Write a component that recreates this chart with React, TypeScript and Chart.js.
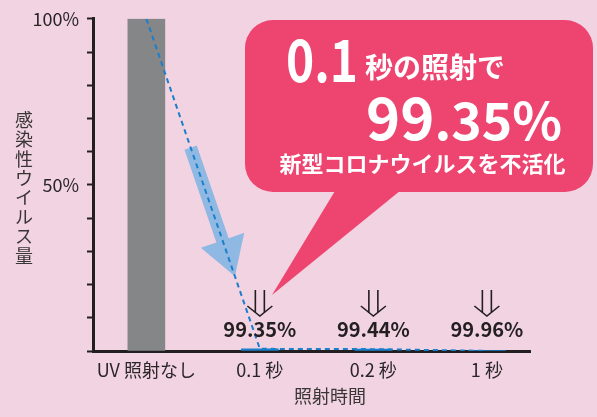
import { useEffect, useRef } from 'react';
import { Chart, registerables } from 'chart.js';

Chart.register(...registerables);

// ---- data ----
const categories = ['UV 照射なし', '0.1 秒', '0.2 秒', '1 秒'];
const infectivity = [100, 0.65, 0.56, 0.04];
const reductionLabels = ['', '99.35%', '99.44%', '99.96%'];
const yTickValues = [50, 100];
const yTickTexts = ['50%', '100%'];
const yTitle = '感染性ウイルス量';
const xTitle = '照射時間';
const calloutBig = '0.1';
const calloutSmall = '秒の照射で';
const calloutPctMain = '99';
const calloutPctRest = '.35%';
const calloutBottom = '新型コロナウイルスを不活化';

// ---- styles ----
const FONT = '"Noto Sans CJK JP", "Noto Sans", sans-serif';
const BG = '#f2d3e1';
const GREY = '#848688';
const BLUE = '#1b7fcc';
const LIGHT_BLUE = '#8fb9e3';
const PINK = '#ee4470';
const AXIS = '#231f20';
const TEXT = '#2a2627';

const decor = {
  id: 'decor',
  beforeDatasetsDraw(chart: any) {
    const { ctx } = chart;
    const xs = chart.scales.x;
    const ys = chart.scales.y;
    const p0 = { x: xs.getPixelForValue(0), y: ys.getPixelForValue(infectivity[0]) };
    const p1 = { x: xs.getPixelForValue(1), y: ys.getPixelForValue(infectivity[1]) };
    const dx = p1.x - p0.x;
    const dy = p1.y - p0.y;
    const len = Math.hypot(dx, dy);
    const u = { x: dx / len, y: dy / len };
    const n = { x: -u.y, y: u.x };
    const t1 = 0.39;
    const t2 = 0.78;
    const S = { x: p0.x + dx * t1, y: p0.y + dy * t1 };
    const T = { x: p0.x + dx * t2, y: p0.y + dy * t2 };
    const headLen = 38;
    const B = { x: T.x - u.x * headLen, y: T.y - u.y * headLen };
    const sw = 6.5;
    const hw = 23;
    ctx.save();
    ctx.fillStyle = LIGHT_BLUE;
    ctx.beginPath();
    ctx.moveTo(S.x + n.x * sw, S.y + n.y * sw);
    ctx.lineTo(B.x + n.x * sw, B.y + n.y * sw);
    ctx.lineTo(B.x + n.x * hw, B.y + n.y * hw);
    ctx.lineTo(T.x, T.y);
    ctx.lineTo(B.x - n.x * hw, B.y - n.y * hw);
    ctx.lineTo(B.x - n.x * sw, B.y - n.y * sw);
    ctx.lineTo(S.x - n.x * sw, S.y - n.y * sw);
    ctx.closePath();
    ctx.fill();
    ctx.restore();
  },
  afterDatasetsDraw(chart: any) {
    const { ctx } = chart;
    const xs = chart.scales.x;
    const base = chart.scales.y.getPixelForValue(0);
    ctx.save();
    reductionLabels.forEach((lab, i) => {
      if (!lab) return;
      const cx = xs.getPixelForValue(i);
      ctx.strokeStyle = AXIS;
      ctx.lineWidth = 1.6;
      ctx.beginPath();
      ctx.moveTo(cx - 4.5, base - 61);
      ctx.lineTo(cx - 4.5, base - 38);
      ctx.moveTo(cx + 4.5, base - 61);
      ctx.lineTo(cx + 4.5, base - 38);
      ctx.moveTo(cx - 12.5, base - 45);
      ctx.lineTo(cx, base - 35);
      ctx.lineTo(cx + 12.5, base - 45);
      ctx.stroke();
      ctx.fillStyle = AXIS;
      ctx.font = `bold 20px ${FONT}`;
      ctx.textAlign = 'center';
      ctx.textBaseline = 'alphabetic';
      ctx.fillText(lab, cx, base - 14, 74);
    });
    ctx.restore();
  },
  afterDraw(chart: any) {
    const { ctx } = chart;
    ctx.save();
    ctx.fillStyle = '#3a3536';
    ctx.font = `18px ${FONT}`;
    ctx.textAlign = 'center';
    ctx.textBaseline = 'middle';
    Array.from(yTitle).forEach((ch, i) => {
      ctx.fillText(ch, 24, 120 + i * 19.4);
    });
    // x-axis title
    ctx.font = `18px ${FONT}`;
    ctx.fillText(xTitle, 330, 396, 76);
    // callout
    ctx.fillStyle = PINK;
    ctx.beginPath();
    ctx.roundRect(245, 20, 348, 172, 28);
    ctx.fill();
    ctx.beginPath();
    ctx.moveTo(338, 186);
    ctx.lineTo(406, 186);
    ctx.lineTo(272, 295);
    ctx.closePath();
    ctx.fill();
    ctx.fillStyle = '#ffffff';
    ctx.textAlign = 'left';
    ctx.textBaseline = 'alphabetic';
    ctx.font = `bold 58px ${FONT}`;
    ctx.fillText(calloutBig, 286, 82, 72);
    ctx.font = `bold 28px ${FONT}`;
    ctx.textBaseline = 'middle';
    ctx.fillText(calloutSmall, 365, 67, 145);
    ctx.textBaseline = 'alphabetic';
    ctx.font = `bold 58px ${FONT}`;
    ctx.fillText(calloutPctMain, 366, 140);
    const w99 = ctx.measureText(calloutPctMain).width;
    ctx.font = `bold 52px ${FONT}`;
    ctx.fillText(calloutPctRest, 366 + w99, 140, 562 - 366 - w99);
    ctx.font = `bold 22px ${FONT}`;
    ctx.textAlign = 'center';
    ctx.textBaseline = 'middle';
    ctx.fillText(calloutBottom, 422.5, 163.5, 292);
    ctx.restore();
  },
};

export default function App() {
  const ref = useRef<HTMLCanvasElement | null>(null);
  useEffect(() => {
    if (!ref.current) return;
    const points = infectivity.map((v, i) => ({ x: i, y: v }));
    const chart = new Chart(ref.current, {
      type: 'bar',
      data: {
        datasets: [
          {
            type: 'line',
            data: points,
            borderColor: BLUE,
            borderWidth: 2,
            borderDash: [5, 4],
            pointRadius: 0,
            fill: false,
            order: 0,
          } as any,
          {
            type: 'bar',
            data: points,
            backgroundColor: infectivity.map((_, i) => (i === 0 ? GREY : BLUE)),
            barThickness: 37,
            order: 1,
          } as any,
        ],
      },
      options: {
        animation: false,
        responsive: false,
        events: [],
        layout: { padding: { top: 15, right: 67, left: 0, bottom: 0 } },
        plugins: { legend: { display: false }, tooltip: { enabled: false } },
        scales: {
          x: {
            type: 'linear',
            offset: false,
            min: -0.47,
            max: 3.38,
            afterBuildTicks: (s: any) => {
              s.ticks = categories.map((_, i) => ({ value: i }));
            },
            afterFit: (s: any) => {
              s.height = 66;
            },
            grid: { display: false, offset: false },
            border: { display: true, color: AXIS, width: 3 },
            ticks: {
              callback: (v: any) => categories[v] ?? '',
              autoSkip: false,
              maxRotation: 0,
              color: TEXT,
              font: { family: FONT, size: 18 },
              padding: 0,
            },
            title: { display: false },
          },
          y: {
            min: 0,
            max: 100,
            afterBuildTicks: (s: any) => {
              const t = [];
              for (let v = 0; v <= 100; v += 10) t.push({ value: v });
              s.ticks = t;
            },
            afterFit: (s: any) => {
              s.width = 93;
            },
            ticks: {
              callback: (v: any) => {
                const k = yTickValues.indexOf(Number(v));
                return k >= 0 ? yTickTexts[k] : '';
              },
              color: TEXT,
              font: { family: FONT, size: 18 },
              padding: 8,
            },
            grid: {
              display: true,
              drawOnChartArea: false,
              drawTicks: true,
              tickLength: 6,
              tickWidth: 2,
              tickColor: AXIS,
            },
            border: { display: true, color: AXIS, width: 3 },
          },
        },
      } as any,
      plugins: [decor],
    });
    return () => chart.destroy();
  }, []);
  return (
    <div style={{ position: 'fixed', left: 0, top: 0, width: 597, height: 417, background: BG }}>
      <canvas ref={ref} width={597} height={417} />
    </div>
  );
}
